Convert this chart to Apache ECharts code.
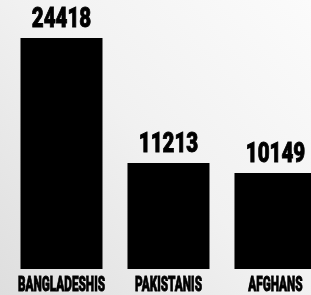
<!DOCTYPE html>
<html>
<head>
<meta charset="utf-8">
<script src="https://cdn.jsdelivr.net/npm/echarts@6/dist/echarts.min.js"></script>
<style>
  html, body { margin: 0; padding: 0; background: #fff; }
  #chart { width: 311px; height: 295px; }
</style>
</head>
<body>
<div id="chart"></div>
<script>
// Bar chart: counts by nationality (newspaper graphic)
const categories = ['BANGLADESHIS', 'PAKISTANIS', 'AFGHANS'];
const counts = [24418, 11213, 10149];

const FONT = 'Roboto, "Liberation Sans", sans-serif';

const chart = echarts.init(document.getElementById('chart'), null, { renderer: 'canvas' });

// condensed print type: heavy bold text squeezed horizontally
function squeezedText(x, y, text, size, sx, valign) {
  return {
    type: 'text', x: x, y: y, scaleX: sx,
    style: {
      text: text, fill: '#000', stroke: '#000', lineWidth: 0.9,
      font: '900 ' + size + 'px ' + FONT,
      align: 'center', verticalAlign: valign,
    },
  };
}

// the last bar runs off the right edge, so the x range stops short of it
chart.setOption({
  animation: false,
  backgroundColor: {
    type: 'linear', x: 1, y: 0, x2: 0, y2: 1,
    colorStops: [
      { offset: 0, color: '#fbfbfb' },
      { offset: 0.5, color: '#f1f1f1' },
      { offset: 1, color: '#dedede' },
    ],
  },
  grid: { left: 8, right: 0, top: 38, bottom: 26, containLabel: false },
  xAxis: {
    type: 'value', min: -0.5, max: 2.332, show: false, splitLine: { show: false },
  },
  yAxis: {
    type: 'value', min: 0, max: 24418,
    show: false, splitLine: { show: false },
  },
  series: [
    {
      type: 'bar', data: counts.map((v, i) => [i, v]),
      barWidth: 82,
      itemStyle: { color: '#000' },
    },
    {
      // value above each bar
      type: 'custom',
      data: counts.map((v, i) => [i, v]),
      silent: true,
      renderItem: (params, api) => {
        const pt = api.coord([api.value(0), api.value(1)]);
        return squeezedText(pt[0], pt[1] - 4, String(api.value(1)), 27, 0.76, 'bottom');
      },
    },
    {
      // category names under the bars
      type: 'custom',
      data: categories.map((c, i) => [i, 0]),
      silent: true,
      renderItem: (params, api) => {
        const pt = api.coord([api.value(0), 0]);
        return squeezedText(pt[0], pt[1] + 6, categories[params.dataIndex], 21, 0.56, 'top');
      },
    },
  ],
});
</script>
</body>
</html>
